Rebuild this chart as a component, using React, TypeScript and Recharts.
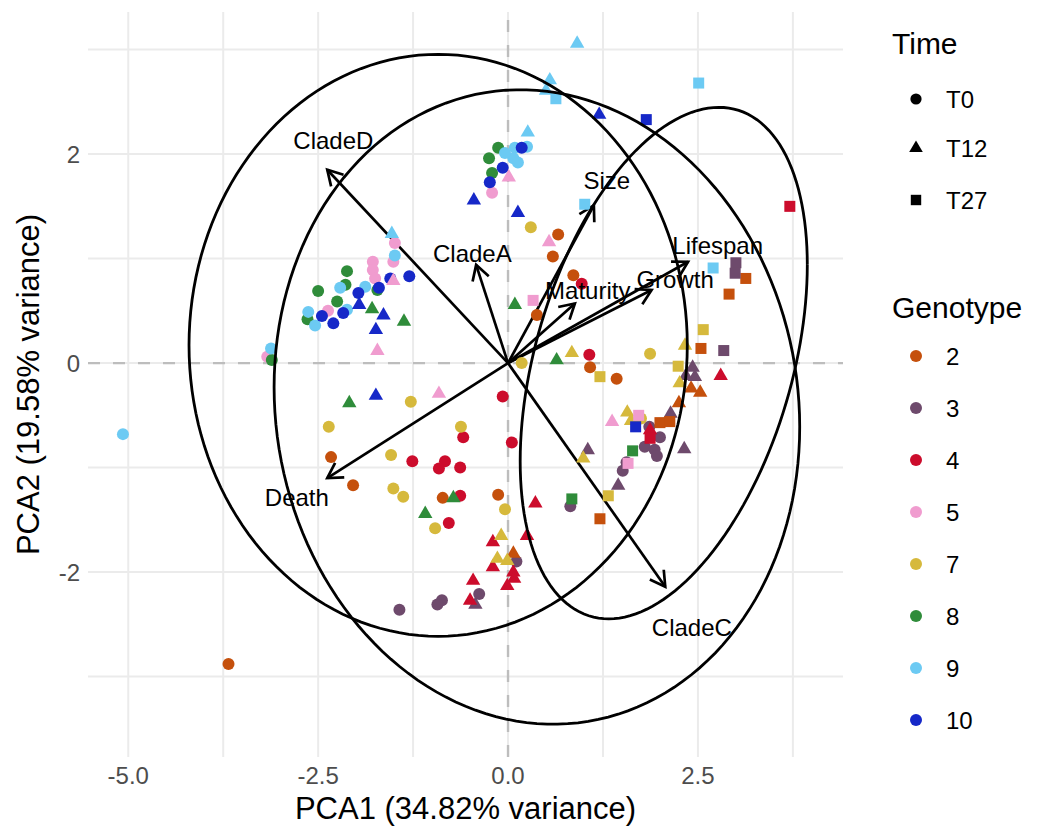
import React from 'react';
import { ScatterChart, Scatter, XAxis, YAxis, CartesianGrid, ReferenceLine, Label } from 'recharts';

const FONT = '"Liberation Sans", Arial, Helvetica, sans-serif';

// ---- categories / legend ----
const genotypeLabels = ['2', '3', '4', '5', '7', '8', '9', '10'];
const genotypeColors = ['#C5500C', '#6E4A6C', '#CC0C2C', '#F09CCF', '#D6B93C', '#2F8C3A', '#6CCAF3', '#1628C8'];
const timeLabels = ['T0', 'T12', 'T27'];

// ---- axes ----
const xTicks = [-5, -2.5, 0, 2.5];
const yTicks = [-2, 0, 2];
const xGrid = [-5, -3.75, -2.5, -1.25, 0, 1.25, 2.5, 3.75];
const yGrid = [-3, -2, -1, 0, 1, 2, 3];
const xDomain = [-5.53, 4.41];
const yDomain = [-3.77, 3.36];

// ---- scores: [PCA1, PCA2, genotype] ----
const pointsT0: [number, number, string][] = [
  [-2.33, -0.9, '2'], [-3.68, -2.88, '2'], [-2.04, -1.17, '2'], [-0.86, -1.29, '2'], [-0.13, -1.26, '2'],
  [0.66, 1.23, '2'], [0.59, 1.02, '2'], [0.86, 0.84, '2'], [0.38, 0.46, '2'], [1.08, -0.04, '2'], [1.43, -0.15, '2'],
  [0.82, -1.37, '3'], [0.11, -1.9, '3'], [-0.38, -2.21, '3'], [-0.87, -2.27, '3'], [-0.93, -2.31, '3'],
  [-1.43, -2.36, '3'], [1.8, -0.8, '3'], [1.93, -0.83, '3'], [1.96, -0.89, '3'], [1.86, -0.61, '3'],
  [2.0, -0.71, '3'], [1.51, -1.03, '3'], [1.56, -0.95, '3'],
  [-0.07, -0.32, '4'], [-0.59, -0.71, '4'], [0.05, -0.76, '4'], [-1.26, -0.94, '4'], [-0.83, -0.94, '4'],
  [-0.91, -1.01, '4'], [-0.63, -1.0, '4'], [-0.63, -1.27, '4'], [-0.78, -1.53, '4'], [0.97, 0.76, '4'], [1.07, 0.08, '4'],
  [-0.21, 1.63, '5'], [-1.49, 1.15, '5'], [-1.78, 0.97, '5'], [-1.78, 0.89, '5'], [-1.75, 0.81, '5'],
  [-2.37, 0.5, '5'], [-3.17, 0.06, '5'], [-1.51, 0.97, '5'],
  [-1.28, -0.37, '7'], [-0.62, -0.61, '7'], [-2.36, -0.61, '7'], [-1.54, -0.88, '7'], [-1.51, -1.2, '7'],
  [-1.38, -1.28, '7'], [-0.96, -1.58, '7'], [-0.04, -1.4, '7'], [0.3, 1.3, '7'], [0.18, 0.0, '7'],
  [1.87, 0.09, '7'], [1.75, -0.53, '7'],
  [-0.13, 2.06, '8'], [-0.25, 1.96, '8'], [-0.21, 1.82, '8'], [-2.12, 0.88, '8'], [-2.5, 0.69, '8'],
  [-2.14, 0.75, '8'], [-1.72, 0.7, '8'], [-2.25, 0.59, '8'], [-2.64, 0.42, '8'], [-3.11, 0.03, '8'],
  [0.09, 2.06, '9'], [0.25, 2.07, '9'], [0.07, 1.96, '9'], [0.13, 1.92, '9'], [-0.04, 2.01, '9'],
  [-1.49, 1.03, '9'], [-1.88, 0.73, '9'], [-2.21, 0.72, '9'], [-2.12, 0.51, '9'], [-2.63, 0.49, '9'],
  [-2.54, 0.36, '9'], [-3.12, 0.14, '9'], [-5.07, -0.68, '9'],
  [-0.07, 1.87, '10'], [-0.24, 1.73, '10'], [0.18, 2.06, '10'], [-1.3, 0.83, '10'], [-1.55, 0.81, '10'],
  [-1.97, 0.67, '10'], [-1.7, 0.72, '10'], [-2.17, 0.48, '10'], [-2.45, 0.45, '10'], [-2.3, 0.38, '10'],
];

const pointsT12: [number, number, string][] = [
  [0.07, -1.82, '2'], [2.41, -0.24, '2'], [2.53, -0.28, '2'], [2.25, -0.38, '2'],
  [1.05, -0.83, '3'], [-0.43, -2.31, '3'], [2.43, -0.04, '3'], [2.46, -0.13, '3'], [2.34, -0.12, '3'],
  [2.14, -0.48, '3'], [2.32, -0.82, '3'], [1.45, -1.17, '3'],
  [0.36, -1.34, '4'], [-0.2, -1.71, '4'], [0.25, -1.65, '4'], [-0.2, -1.95, '4'], [0.07, -2.0, '4'],
  [0.08, -2.06, '4'], [-0.46, -2.08, '4'], [-0.01, -2.13, '4'], [-0.5, -2.27, '4'], [2.8, -0.12, '4'], [1.87, -0.64, '4'],
  [0.01, 1.78, '5'], [0.54, 1.16, '5'], [-1.51, 0.79, '5'], [-1.72, 0.12, '5'], [-0.91, -0.29, '5'], [1.37, -0.56, '5'],
  [0.84, 0.1, '7'], [0.99, -0.91, '7'], [-0.09, -1.65, '7'], [-0.14, -1.87, '7'], [-0.01, -1.89, '7'],
  [2.33, 0.17, '7'], [2.26, -0.19, '7'], [1.57, -0.47, '7'], [1.62, -0.55, '7'],
  [-2.09, -0.38, '8'], [-1.09, -1.44, '8'], [-0.72, -1.29, '8'], [0.09, 0.56, '8'], [0.64, 0.03, '8'],
  [-1.79, 0.52, '8'], [-1.37, 0.4, '8'],
  [0.91, 3.06, '9'], [0.55, 2.71, '9'], [0.5, 2.61, '9'], [0.26, 2.21, '9'], [-1.53, 1.24, '9'],
  [1.2, 2.38, '10'], [-0.45, 1.56, '10'], [0.13, 1.44, '10'], [-1.74, -0.31, '10'], [-1.96, 0.56, '10'],
  [-1.64, 0.46, '10'], [-1.74, 0.32, '10'],
];

const pointsT27: [number, number, string][] = [
  [3.13, 0.81, '2'], [2.91, 0.66, '2'], [2.54, 0.14, '2'], [2.0, -0.57, '2'], [2.13, -0.56, '2'], [1.21, -1.49, '2'],
  [3.0, 0.96, '3'], [2.99, 0.86, '3'], [2.84, 0.12, '3'],
  [3.71, 1.5, '4'], [1.87, -0.72, '4'],
  [0.33, 0.6, '5'], [1.72, -0.5, '5'], [1.58, -0.96, '5'],
  [2.57, 0.32, '7'], [1.21, -0.13, '7'], [2.24, -0.03, '7'], [1.32, -1.27, '7'],
  [0.84, -1.3, '8'], [1.64, -0.84, '8'],
  [0.63, 2.53, '9'], [2.51, 2.68, '9'], [1.01, 1.52, '9'], [2.7, 0.91, '9'],
  [1.82, 2.33, '10'], [1.68, -0.61, '10'],
];

// ---- loadings (arrows) ----
const arrowNames = ['CladeD', 'CladeA', 'Size', 'Lifespan', 'Growth', 'Maturity', 'Death', 'CladeC'];
const arrowX = [-2.38, -0.42, 1.13, 2.37, 1.89, 0.88, -2.38, 2.07];
const arrowY = [1.85, 0.94, 1.51, 0.97, 0.7, 0.57, -1.1, -2.14];
const labelX = [-2.3, -0.47, 1.3, 2.76, 2.2, 1.05, -2.78, 2.42];
const labelY = [2.13, 1.05, 1.75, 1.13, 0.8, 0.69, -1.29, -2.53];

// ---- group ellipses (T0, T12, T27): centre, semi-diameter to rightmost point, vertical conjugate ----
const ellipseCx = [-0.92, 0.38, 2.05];
const ellipseCy = [0.17, -0.42, 0.0];
const ellipseUx = [3.28, 3.46, 1.89];
const ellipseUy = [0.0, -0.19, 0.94];
const ellipseVy = [2.785, 3.03, 2.26];

const colorOf = (g: string) => genotypeColors[genotypeLabels.indexOf(g)];
const toRows = (pts: [number, number, string][]) => pts.map(([x, y, g]) => ({ x, y, g }));

const ellipseRows = (i: number) => {
  const rows: { x: number; y: number }[] = [];
  const n = 160;
  for (let k = 0; k <= n; k++) {
    const t = (2 * Math.PI * k) / n;
    rows.push({
      x: ellipseCx[i] + ellipseUx[i] * Math.cos(t),
      y: ellipseCy[i] + ellipseUy[i] * Math.cos(t) + ellipseVy[i] * Math.sin(t),
    });
  }
  return rows;
};

const labelRows = arrowNames.map((name, i) => ({ x: labelX[i], y: labelY[i], name }));

const ok = (v: any) => typeof v === 'number' && !isNaN(v);

const CircleMark = (props: any) => {
  const { cx, cy, payload } = props;
  if (!ok(cx) || !ok(cy)) return <g />;
  return <circle cx={cx} cy={cy} r={6} fill={colorOf(payload.g)} />;
};
const TriangleMark = (props: any) => {
  const { cx, cy, payload } = props;
  if (!ok(cx) || !ok(cy)) return <g />;
  const h = 7.2;
  return (
    <polygon
      points={`${cx},${cy - 8} ${cx + h},${cy + 4.4} ${cx - h},${cy + 4.4}`}
      fill={colorOf(payload.g)}
    />
  );
};
const SquareMark = (props: any) => {
  const { cx, cy, payload } = props;
  if (!ok(cx) || !ok(cy)) return <g />;
  const s = 5.5;
  return <rect x={cx - s} y={cy - s} width={2 * s} height={2 * s} fill={colorOf(payload.g)} />;
};
const NoMark = () => <g />;

const ArrowLabel = (props: any) => {
  const { cx, cy, payload } = props;
  if (!ok(cx) || !ok(cy)) return <g />;
  return (
    <text x={cx} y={cy} textAnchor="middle" dominantBaseline="central" fontSize={24} fill="#000" fontFamily={FONT}>
      {payload.name}
    </text>
  );
};

const ArrowShape = (props: any) => {
  const { x1, y1, x2, y2 } = props;
  if (![x1, y1, x2, y2].every(ok)) return <g />;
  const ang = Math.atan2(y2 - y1, x2 - x1);
  const L = 17;
  const sp = Math.PI / 6;
  const ax = x2 - L * Math.cos(ang - sp);
  const ay = y2 - L * Math.sin(ang - sp);
  const bx = x2 - L * Math.cos(ang + sp);
  const by = y2 - L * Math.sin(ang + sp);
  return (
    <g>
      <line x1={x1} y1={y1} x2={x2} y2={y2} stroke="#000" strokeWidth={2.7} />
      <polyline points={`${ax},${ay} ${x2},${y2} ${bx},${by}`} fill="none" stroke="#000" strokeWidth={2.7} />
    </g>
  );
};

const Legends = () => {
  const keyX = 916;
  const textX = 946;
  const timeY = [99, 148, 200];
  const genoY0 = 356;
  const genoStep = 52;
  return (
    <svg width={1037} height={832} style={{ position: 'absolute', left: 0, top: 0, pointerEvents: 'none' }}>
      <text x={892} y={54} fontSize={30} fontFamily={FONT} fill="#000">Time</text>
      {timeLabels.map((t, i) => {
        const y = timeY[i];
        return (
          <g key={t}>
            {i === 0 && <circle cx={keyX} cy={y} r={5.6} fill="#000" />}
            {i === 1 && <polygon points={`${keyX},${y - 7.6} ${keyX + 6.8},${y + 4.1} ${keyX - 6.8},${y + 4.1}`} fill="#000" />}
            {i === 2 && <rect x={keyX - 5.2} y={y - 5.2} width={10.4} height={10.4} fill="#000" />}
            <text x={textX} y={y} dominantBaseline="central" fontSize={24} fontFamily={FONT} fill="#000">{t}</text>
          </g>
        );
      })}
      <text x={892} y={318} fontSize={30} fontFamily={FONT} fill="#000">Genotype</text>
      {genotypeLabels.map((g, i) => {
        const y = genoY0 + i * genoStep;
        return (
          <g key={g}>
            <circle cx={keyX} cy={y} r={6} fill={genotypeColors[i]} />
            <text x={textX} y={y} dominantBaseline="central" fontSize={24} fontFamily={FONT} fill="#000">{g}</text>
          </g>
        );
      })}
    </svg>
  );
};

export default function App() {
  return (
    <div style={{ position: 'absolute', left: 0, top: 0, width: 1037, height: 832, background: '#fff', fontFamily: FONT }}>
      <ScatterChart width={1037} height={832} margin={{ top: 12, right: 194, bottom: 0, left: 0 }}>
        <CartesianGrid
          verticalValues={xGrid}
          horizontalValues={yGrid}
          stroke="#ebebeb"
          strokeWidth={2}
          strokeDasharray=""
        />
        <XAxis
          type="number"
          dataKey="x"
          domain={xDomain}
          ticks={xTicks}
          allowDataOverflow
          interval={0}
          height={75}
          axisLine={false}
          tickLine={false}
          tickSize={6}
          tickMargin={4}
          tickFormatter={(v: number) => v.toFixed(1)}
          tick={{ fill: '#4d4d4d', fontSize: 24, fontFamily: FONT }}
        >
          <Label
            content={(p: any) => {
              const vb = p.viewBox || {};
              return (
                <text x={vb.x + vb.width / 2} y={vb.y + 51} textAnchor="middle" dominantBaseline="central" fontSize={31} fontFamily={FONT} fill="#000">
                  PCA1 (34.82% variance)
                </text>
              );
            }}
          />
        </XAxis>
        <YAxis
          type="number"
          dataKey="y"
          domain={yDomain}
          ticks={yTicks}
          allowDataOverflow
          interval={0}
          width={88}
          axisLine={false}
          tickLine={false}
          tickSize={6}
          tickMargin={2}
          tickFormatter={(v: number) => String(v)}
          tick={{ fill: '#4d4d4d', fontSize: 24, fontFamily: FONT }}
        >
          <Label
            content={(p: any) => {
              const vb = p.viewBox || {};
              const cx = vb.x + 28;
              const cy = vb.y + vb.height / 2;
              return (
                <text transform={`translate(${cx},${cy}) rotate(-90)`} textAnchor="middle" dominantBaseline="central" fontSize={31} fontFamily={FONT} fill="#000">
                  PCA2 (19.58% variance)
                </text>
              );
            }}
          />
        </YAxis>
        <ReferenceLine x={0} stroke="#bdbdbd" strokeWidth={2.4} strokeDasharray="12 13" />
        <ReferenceLine y={0} stroke="#bdbdbd" strokeWidth={2.4} strokeDasharray="12 13" />

        <Scatter name="T0" data={toRows(pointsT0)} shape={CircleMark} isAnimationActive={false} />
        <Scatter name="T12" data={toRows(pointsT12)} shape={TriangleMark} isAnimationActive={false} />
        <Scatter name="T27" data={toRows(pointsT27)} shape={SquareMark} isAnimationActive={false} />

        {ellipseCx.map((_, i) => (
          <Scatter
            key={`ell-${i}`}
            data={ellipseRows(i)}
            shape={NoMark}
            fill="#000"
            line={{ stroke: '#000', strokeWidth: 2.8, fill: 'none' }}
            lineType="joint"
            isAnimationActive={false}
          />
        ))}

        {arrowNames.map((n, i) => (
          <ReferenceLine
            key={`arr-${n}`}
            segment={[{ x: 0, y: 0 }, { x: arrowX[i], y: arrowY[i] }]}
            shape={ArrowShape}
            ifOverflow="visible"
          />
        ))}

        <Scatter data={labelRows} shape={ArrowLabel} isAnimationActive={false} />
      </ScatterChart>
      <Legends />
    </div>
  );
}
